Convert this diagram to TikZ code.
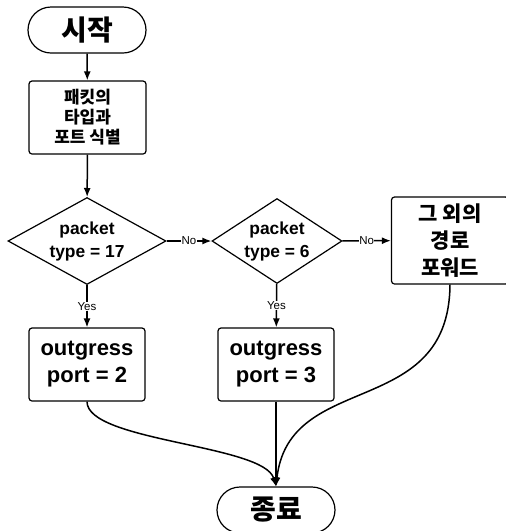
\documentclass[tikz,border=0pt]{standalone}
\usepackage{fontspec}
\setmainfont{Liberation Sans}
\newfontfamily\kr{Noto Sans CJK KR}
\usetikzlibrary{shapes.geometric,arrows.meta}
\begin{document}
\begin{tikzpicture}[x=1pt,y=-1pt,
  term/.style={draw,line width=1.2pt,rounded corners=23pt,minimum width=118pt,minimum height=46pt,inner sep=0pt,font=\kr\bfseries\fontsize{28}{30}\selectfont},
  proc/.style={draw,line width=1.2pt,rounded corners=3pt,inner sep=0pt,align=center},
  dec/.style={draw,diamond,line width=1.2pt,inner sep=0pt},
  dectext/.style={font=\bfseries\fontsize{17.4}{23}\selectfont,align=center,inner sep=0pt},
  arr/.style={line width=1.5pt,-{Latex[length=9pt,width=7pt]}},
  lab/.style={fill=white,inner sep=0.5pt,font=\fontsize{11.5}{12}\selectfont}]
\useasboundingbox (0,0) rectangle (506,531);
\node[term] (start) at (87,30) {시작};
\node[proc,minimum width=117pt,minimum height=73pt,font=\kr\bfseries\fontsize{17}{20}\selectfont] (ident) at (87.5,117.5) {패킷의\\타입과\\포트 식별};
\node[dec,minimum width=158pt,minimum height=87pt,label={[dectext]center:{packet\\type = 17}}] (d1) at (87,241) {};
\node[dec,minimum width=130pt,minimum height=85pt,label={[dectext]center:{packet\\type = 6}}] (d2) at (277,241) {};
\node[proc,minimum width=117pt,minimum height=87pt,font=\kr\bfseries\fontsize{21}{27}\selectfont] (fwd) at (450,240.5) {그 외의\\경로\\포워드};
\node[proc,minimum width=116pt,minimum height=73pt,font=\bfseries\fontsize{22}{27}\selectfont] (o1) at (87,364.5) {outgress\\port = 2};
\node[proc,minimum width=116pt,minimum height=73pt,font=\bfseries\fontsize{22}{27}\selectfont] (o2) at (276,364.5) {outgress\\port = 3};
\node[term] (end) at (276,510) {종료};
\draw[arr] (start) -- (ident);
\draw[arr] (ident) -- (d1);
\draw[arr] (d1) -- node[lab]{No} (d2);
\draw[arr] (d2) -- node[lab]{No} (fwd);
\draw[arr] (d1) -- node[lab]{Yes} (o1);
\draw[arr] (d2) -- node[lab]{Yes} (o2);
\draw[arr] (o1.south) .. controls +(0,40) and +(-12,-42) .. (end.north);
\draw[arr] (o2) -- (end);
\draw[arr] (fwd.south) .. controls +(-1,136) and +(13,-117) .. (end.north);
\end{tikzpicture}
\end{document}
